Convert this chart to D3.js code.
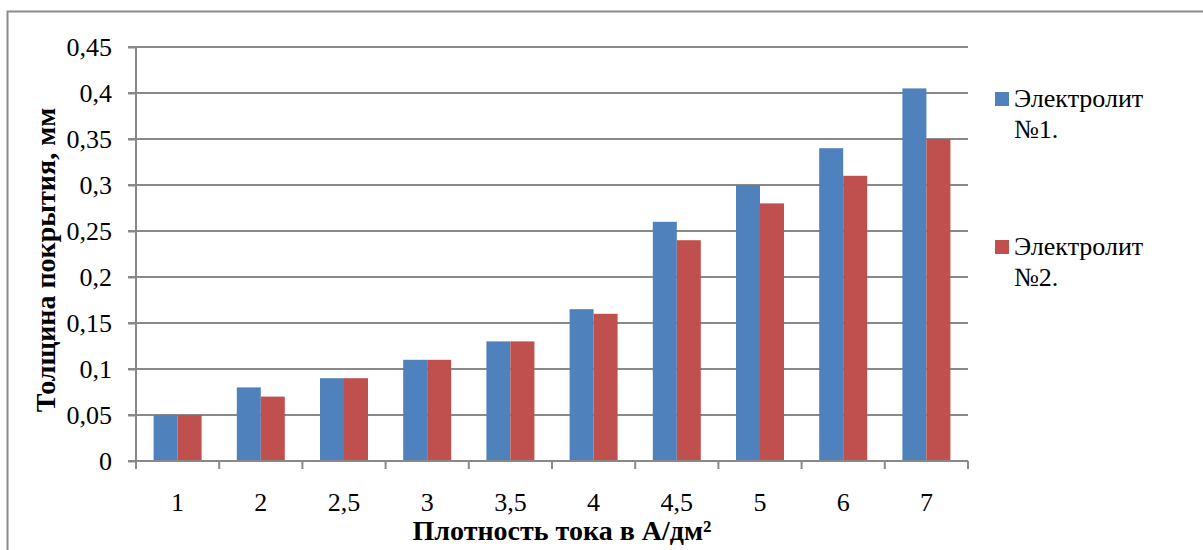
<!DOCTYPE html>
<html><head><meta charset="utf-8">
<script src="https://cdn.jsdelivr.net/npm/d3@7"></script>
<style>body{margin:0;background:#fff;}svg{display:block;} svg text{font-family:"Liberation Serif","Tinos","Times New Roman","DejaVu Serif",serif;}</style>
</head><body>
<svg id="chart" width="1203" height="550"></svg>
<script>
const categories = ["1","2","2,5","3","3,5","4","4,5","5","6","7"];
const series1 = [0.05,0.08,0.09,0.11,0.13,0.165,0.26,0.30,0.34,0.405];
const series2 = [0.05,0.07,0.09,0.11,0.13,0.16,0.24,0.28,0.31,0.35];
const seriesNames = ["Электролит №1.","Электролит №2."];
const yTicks = [0,0.05,0.1,0.15,0.2,0.25,0.3,0.35,0.4,0.45];
const colors = ["#4F81BD","#C0504D"];

const svg = d3.select("#chart");
const grid = "#898989";
const L = 136, R = 968, T = 47, B = 461;

svg.append("rect").attr("x",7.5).attr("y",11.5).attr("width",1250).attr("height",600)
  .attr("fill","none").attr("stroke","#8c8c8c").attr("stroke-width",2);

const x = d3.scaleBand().domain(categories).range([L,R]);
const y = d3.scaleLinear().domain([0,0.45]).range([B,T]);
const x1 = d3.scaleBand().domain([0,1]).range([0,48]);

// gridlines
svg.append("g").selectAll("line").data(yTicks.filter(d=>d>0)).join("line")
  .attr("x1",L-8).attr("x2",R).attr("y1",d=>y(d)).attr("y2",d=>y(d))
  .attr("stroke",grid).attr("stroke-width",2);

// bars
const data = [series1,series2];
const groups = svg.append("g");
data.forEach((s,si)=>{
  groups.selectAll(".b"+si).data(s).join("rect")
    .attr("x",(d,i)=>x(categories[i]) + (x.bandwidth()-48)/2 + x1(si))
    .attr("y",d=>y(d)).attr("width",x1.bandwidth()).attr("height",d=>B-y(d))
    .attr("fill",colors[si]);
});

// y axis
const yAxis = d3.axisLeft(y).tickValues(yTicks).tickSize(8).tickPadding(16)
  .tickFormat(d=>d===0?"0":String(+d.toFixed(2)).replace(".",","));
const ya = svg.append("g").attr("transform",`translate(${L},0)`).call(yAxis);
ya.attr("font-family",null);
ya.select(".domain").attr("stroke",grid).attr("stroke-width",2).attr("d",`M0,${T}V${B}`);
ya.selectAll(".tick line").attr("stroke",grid).attr("stroke-width",2);
ya.selectAll("text").attr("font-size",26).attr("fill","#000");

// x axis
const xa = svg.append("g").attr("transform",`translate(0,${B})`)
  .call(d3.axisBottom(x).tickSize(0).tickPadding(32));
xa.attr("font-family",null);
xa.select(".domain").attr("stroke",grid).attr("stroke-width",2).attr("d",`M${L-8},0H${R}`);
xa.selectAll("text").attr("font-size",26).attr("fill","#000");
svg.append("g").selectAll("line").data(d3.range(categories.length+1)).join("line")
  .attr("x1",i=>L+i*x.step()).attr("x2",i=>L+i*x.step()).attr("y1",B).attr("y2",B+8)
  .attr("stroke",grid).attr("stroke-width",2);

// axis titles
svg.append("text").attr("x",562).attr("y",540).attr("text-anchor","middle")
  .attr("font-weight","bold").attr("font-size",28)
  .text("Плотность тока в А/дм²");
svg.append("text").attr("transform","translate(55,260) rotate(-90)").attr("text-anchor","middle")
  .attr("font-weight","bold").attr("font-size",28)
  .text("Толщина покрытия, мм");

// legend
const legY = [92,240];
seriesNames.forEach((n,i)=>{
  svg.append("rect").attr("x",995).attr("y",legY[i]).attr("width",14).attr("height",14).attr("fill",colors[i]);
  const parts = n.split(" ");
  const t = svg.append("text").attr("font-size",26).attr("fill","#000");
  t.append("tspan").attr("x",1014).attr("y",legY[i]+15).text(parts[0]);
  t.append("tspan").attr("x",1014).attr("y",legY[i]+46).text(parts[1]);
});
</script>
</body></html>
